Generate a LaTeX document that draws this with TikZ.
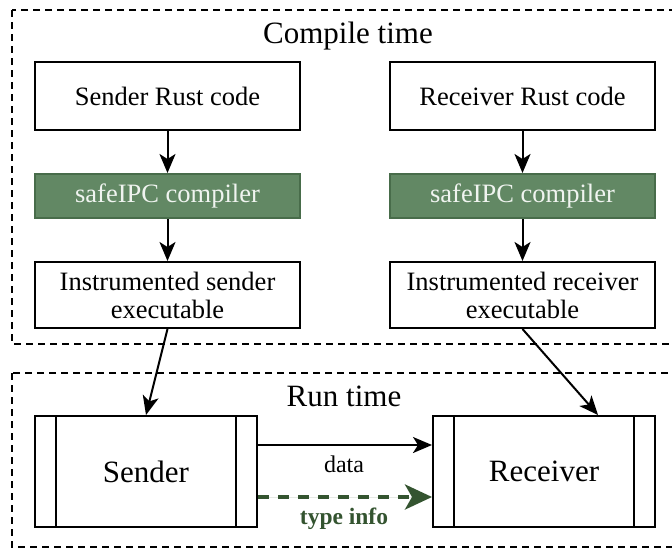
\documentclass[tikz,border=0pt]{standalone}
\usepackage{fontspec}
\setmainfont{Liberation Serif}
\usetikzlibrary{arrows.meta}
\definecolor{gfill}{RGB}{98,136,100}
\definecolor{gdraw}{RGB}{72,108,74}
\definecolor{gdark}{RGB}{52,84,48}
\definecolor{gtext}{RGB}{240,244,240}
\begin{document}
\begin{tikzpicture}[x=1pt,y=-1pt,
  box/.style={draw, line width=2pt, minimum width=265pt, inner sep=0pt, align=center,
    font=\fontsize{26.5}{28}\selectfont, fill=white},
  comp/.style={box, fill=gfill, draw=gdraw, text=gtext, minimum height=44pt},
  proc/.style={draw, line width=2pt, minimum width=222pt, minimum height=111pt, inner sep=0pt,
    font=\fontsize{31}{34}\selectfont},
  arr/.style={-{Stealth[length=19pt,width=16pt,inset=5pt]}, line width=2pt},
  region/.style={draw, dash pattern=on 7pt off 5pt, line width=1.5pt},
  title/.style={font=\fontsize{31}{34}\selectfont, inner sep=0pt},
  lbl/.style={font=\fontsize{24}{26}\selectfont, inner sep=0pt}]
\useasboundingbox (0,0) rectangle (672,550);
\clip (0,0) rectangle (672,550);
\draw[region] (12,10) rectangle (700,344);
\draw[region] (12,373) rectangle (700,547);
\node[title] (ct) at (348,36) {Compile time};
\node[title] (rt) at (344,396) {Run time};
% sender column
\node[box, minimum height=68pt] (srcS) at (167.5,96) {Sender Rust code};
\node[comp] (compS) at (167.5,196) {safeIPC compiler};
\node[box, minimum height=66pt] (instS) at (167.5,295) {Instrumented sender\\executable};
% receiver column
\node[box, minimum height=68pt] (srcR) at (522.5,96) {Receiver Rust code};
\node[comp] (compR) at (522.5,196) {safeIPC compiler};
\node[box, minimum height=66pt] (instR) at (522.5,295) {Instrumented receiver\\executable};
% run time processes
\node[proc] (snd) at (146,471.5) {Sender};
\node[proc] (rcv) at (544,471.5) {Receiver};
\foreach \n in {snd,rcv}{
  \draw[line width=2pt] ([xshift=22pt]\n.north west) -- ([xshift=22pt]\n.south west);
  \draw[line width=2pt] ([xshift=-22pt]\n.north east) -- ([xshift=-22pt]\n.south east);
}
% arrows
\draw[arr] (srcS) -- (compS);
\draw[arr] (compS) -- (instS);
\draw[arr] (srcR) -- (compR);
\draw[arr] (compR) -- (instR);
\draw[arr] (instS.south) -- (snd.north);
\coordinate (rin) at ([xshift=54pt]rcv.north);
\draw[arr] (instR.south) -- (rin);
\draw[arr] ([yshift=26.5pt]snd.east) -- ([yshift=26.5pt]rcv.west);
\draw[draw=gdark, fill=gdark, line width=4pt, dash pattern=on 11pt off 9pt,
  -{Stealth[length=27pt,width=25pt,inset=7pt]}]
  ([yshift=-25.5pt]snd.east) -- ([yshift=-25.5pt]rcv.west);
\node[lbl] (dl) at (344,464) {data};
\node[lbl, text=gdark, font=\fontsize{23.5}{26}\selectfont\bfseries] (tl) at (344,519) {type info};
\end{tikzpicture}
\end{document}
